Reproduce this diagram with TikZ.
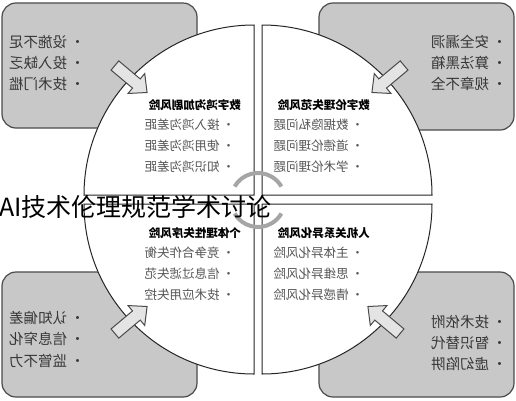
\documentclass[tikz,border=0pt]{standalone}
\usepackage{fontspec}
\newfontfamily\cjk{Noto Sans CJK SC}
\definecolor{boxfill}{RGB}{200,200,200}
\definecolor{boxline}{RGB}{75,75,75}
\definecolor{arrowfill}{RGB}{228,228,228}
\definecolor{ringcol}{RGB}{165,165,165}
\definecolor{boxtext}{RGB}{55,55,55}
\definecolor{quadtext}{RGB}{85,85,85}
\tikzset{
  sidebox/.style={draw=boxline, fill=boxfill, line width=1.2pt, rounded corners=14pt},
  quad/.style={draw=black!85, fill=white, line width=1pt},
  blockarrow/.style={draw=boxline, fill=arrowfill, line width=1pt, line join=miter},
  ring/.style={draw=ringcol, line width=4pt},
  boxitem/.style={anchor=east, inner sep=0pt, text=boxtext, font=\cjk\fontsize{14.5}{14.5}\selectfont},
  quaditem/.style={anchor=east, inner sep=0pt, text=quadtext, font=\cjk\fontsize{12.5}{12.5}\selectfont},
  quadhead/.style={anchor=east, inner sep=0pt, text=black, font=\cjk\bfseries\fontsize{11.5}{11.5}\selectfont}
}
\newcommand\blockarr[4]{%
  \begin{scope}[shift={(#1,#2)}, rotate=#3]
    \draw[blockarrow] (-21,-6) -- (7,-6) -- (7,-13) -- (21,0) -- (7,13) -- (7,6) -- (-21,6) -- cycle;
    \coordinate (#4) at (0,0);
  \end{scope}}
\begin{document}
\begin{tikzpicture}[x=1pt,y=-1pt]
\useasboundingbox[fill=white] (0,0) rectangle (516,400);
% side boxes
\draw[sidebox] (2,3) rectangle (197,128);
\draw[sidebox] (319,3) rectangle (514,130);
\draw[sidebox] (2,272) rectangle (197,397);
\draw[sidebox] (319,272) rectangle (514,397);
% quadrants
\draw[quad] (254,195) -- (84,195) arc (180:270:170) -- cycle;
\draw[quad] (262,195) -- (262,25) arc (270:360:170) -- cycle;
\draw[quad] (254,204) -- (254,374) arc (90:180:170) -- cycle;
\draw[quad] (262,204) -- (432,204) arc (0:90:170) -- cycle;
% center ring
\draw[ring] (258,200) ++(150:27) arc (150:30:27);
\draw[ring] (258,200) ++(210:27) arc (210:330:27);
% block arrows
\blockarr{131}{79}{-40}{a1}
\blockarr{388}{79}{-140}{a2}
\blockarr{131}{320}{40}{a3}
\blockarr{384}{320}{140}{a4}
% box texts
\node[boxitem] (b11) at (85,42) {\reflectbox{• 设施不足}};
\node[boxitem] (b12) at (85,63) {\reflectbox{• 投入缺乏}};
\node[boxitem] (b13) at (85,84) {\reflectbox{• 技术门槛}};
\node[boxitem] (b21) at (507,42) {\reflectbox{• 安全漏洞}};
\node[boxitem] (b22) at (507,63) {\reflectbox{• 算法黑箱}};
\node[boxitem] (b23) at (507,84) {\reflectbox{• 规章不全}};
\node[boxitem] (b31) at (85,318) {\reflectbox{• 认知偏差}};
\node[boxitem] (b32) at (85,339) {\reflectbox{• 信息窄化}};
\node[boxitem] (b33) at (85,361) {\reflectbox{• 监管不力}};
\node[boxitem] (b41) at (507,322) {\reflectbox{• 技术依附}};
\node[boxitem] (b42) at (507,343) {\reflectbox{• 智识替代}};
\node[boxitem] (b43) at (507,364) {\reflectbox{• 虚幻陷阱}};
% quadrant texts
\node[quadhead] (h1) at (241,105) {\reflectbox{数字鸿沟加剧风险}};
\node[quaditem] (q11) at (235,125) {\reflectbox{• 接入鸿沟差距}};
\node[quaditem] (q12) at (235,146) {\reflectbox{• 使用鸿沟差距}};
\node[quaditem] (q13) at (235,167) {\reflectbox{• 知识鸿沟差距}};
\node[quadhead] (h2) at (370,105) {\reflectbox{数字伦理失范风险}};
\node[quaditem] (q21) at (364,125) {\reflectbox{• 数据隐私问题}};
\node[quaditem] (q22) at (364,146) {\reflectbox{• 道德伦理问题}};
\node[quaditem] (q23) at (364,167) {\reflectbox{• 学术伦理问题}};
\node[quadhead] (h3) at (241,233) {\reflectbox{个体理性失序风险}};
\node[quaditem] (q31) at (235,253) {\reflectbox{• 竞争合作失衡}};
\node[quaditem] (q32) at (235,274) {\reflectbox{• 信息过滤失范}};
\node[quaditem] (q33) at (235,295) {\reflectbox{• 技术应用失控}};
\node[quadhead] (h4) at (370,233) {\reflectbox{人机关系异化风险}};
\node[quaditem] (q41) at (364,253) {\reflectbox{• 主体异化风险}};
\node[quaditem] (q42) at (364,274) {\reflectbox{• 思维异化风险}};
\node[quaditem] (q43) at (364,295) {\reflectbox{• 情感异化风险}};
% title
\node[anchor=west, inner sep=0pt, font=\cjk\fontsize{25}{25}\selectfont] (title) at (-1,207) {AI技术伦理规范学术讨论};
\end{tikzpicture}
\end{document}
